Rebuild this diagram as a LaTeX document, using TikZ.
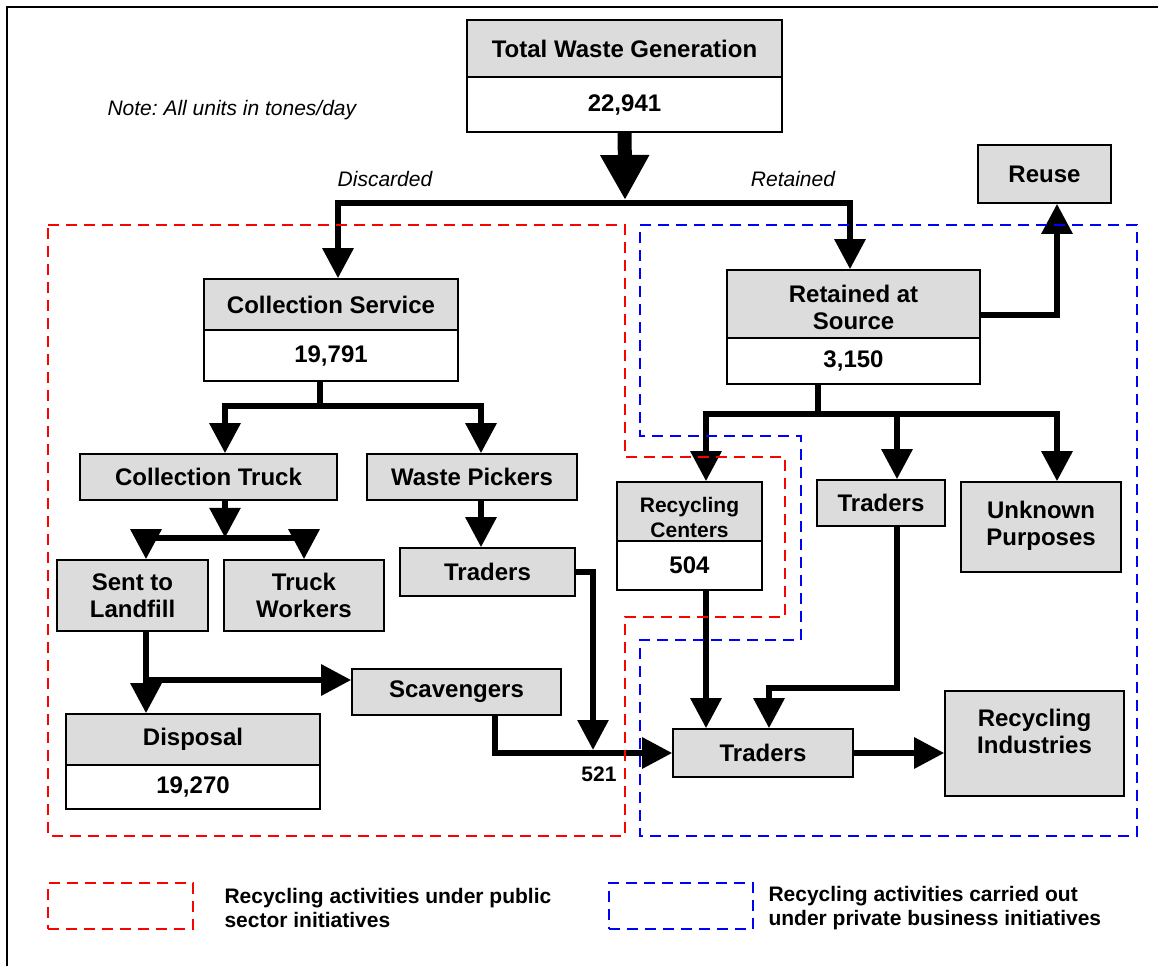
\documentclass[tikz,border=0pt]{standalone}
\usepackage{fontspec}
\setmainfont{Liberation Sans}
\usetikzlibrary{arrows.meta, positioning}
\definecolor{boxgray}{RGB}{220,220,220}
\frenchspacing

\begin{document}
\begin{tikzpicture}[x=1pt, y=-1pt,
    box/.style={draw, line width=1.6pt, fill=boxgray, inner sep=0pt, align=center,
      font=\bfseries\fontsize{24}{27}\selectfont},
    num/.style={box, fill=white},
    flow/.style={line width=6pt, -{Triangle[width=30pt, length=30pt]}},
    wire/.style={line width=6pt},
    note/.style={font=\itshape\fontsize{21}{25}\selectfont},
    keytext/.style={font=\bfseries\fontsize{21}{24}\selectfont, align=left, anchor=west},
    public/.style={draw=red, line width=1.6pt, dash pattern=on 11pt off 7pt},
    private/.style={draw=blue, line width=1.6pt, dash pattern=on 11pt off 7pt}]
  \useasboundingbox (0,0) rectangle (1158,966);
  \draw[line width=2pt] (7,966) -- (7,7) -- (1158,7);

  % top of the tree
  \node[box, minimum width=315, minimum height=57] (total) at (624.5,48.5) {Total Waste Generation};
  \node[num, minimum width=315, minimum height=55] (totalv) at (624.5,104.5) {22,941};
  \node[note, anchor=west] (unit) at (104,110) {Note: All units in tones/day};
  \node[note] (disc) at (385,179) {Discarded};
  \node[note] (ret) at (793,179) {Retained};

  % discarded side
  \node[box, minimum width=254, minimum height=51] (cs) at (331,304.5) {Collection Service};
  \node[num, minimum width=254, minimum height=51] (csv) at (331,355.5) {19,791};
  \node[box, minimum width=257, minimum height=46] (truck) at (208.5,477) {Collection Truck};
  \node[box, minimum width=210, minimum height=46] (pick) at (472,477) {Waste Pickers};
  \node[box, minimum width=151, minimum height=71] (landfill) at (132.5,595.5) {Sent to\\Landfill};
  \node[box, minimum width=160, minimum height=71] (crew) at (304,595.5) {Truck\\Workers};
  \node[box, minimum width=175, minimum height=48] (trd1) at (487.5,572) {Traders};
  \node[box, minimum width=209, minimum height=46] (scav) at (456.5,692) {Scavengers};
  \node[box, minimum width=254, minimum height=51] (disp) at (193,739.5) {Disposal};
  \node[num, minimum width=254, minimum height=44] (dispv) at (193,787) {19,270};

  % retained side
  \node[box, minimum width=253, minimum height=68] (src) at (853.5,304) {\rule{0pt}{25pt}Retained at\\Source};
  \node[num, minimum width=253, minimum height=46] (srcv) at (853.5,361) {3,150};
  \node[box, minimum width=133, minimum height=58] (reuse) at (1044.5,174) {Reuse};
  \node[box, minimum width=145, minimum height=59,
    font=\bfseries\fontsize{21}{25}\selectfont] (rc) at (689.5,511.5) {\rule{0pt}{27pt}Recycling\\Centers};
  \node[num, minimum width=145, minimum height=49] (rcv) at (689.5,565.5) {504};
  \node[box, minimum width=128, minimum height=46] (trd2) at (881,503) {Traders};
  \node[box, minimum width=160, minimum height=90] (unk) at (1041,527) {Unknown\\Purposes\\[-20pt]\mbox{}};
  \node[box, minimum width=180, minimum height=48] (trd3) at (763,753) {Traders};
  \node[box, minimum width=179, minimum height=105] (ind) at (1034.5,743.5) {Recycling\\Industries\\[-2pt]\mbox{}};

  % flows
  \coordinate (split) at (625,203);
  \draw[line width=14pt, -{Triangle[width=46pt, length=45pt]}] (totalv) -- ([yshift=3pt]split);
  \draw[flow] (split) -| ([xshift=7pt]cs.north);
  \draw[flow] (split) -| ([xshift=-3.5pt]src.north);

  \draw[wire] ([xshift=-11pt]csv.south) -- ++(0,24) coordinate (csbar);
  \draw[flow] (csbar) -| ([xshift=16.5pt]truck.north);
  \draw[flow] (csbar) -| ([xshift=9pt]pick.north);
  \draw[flow] ([xshift=16.5pt]truck.south) -- ++(0,37) coordinate (tbar);
  \draw[flow] (tbar) -| ([xshift=13.5pt]landfill.north);
  \draw[flow] (tbar) -| (crew.north);
  \draw[flow] ([xshift=9pt]pick.south) -- ([xshift=-6.5pt]trd1.north);
  \draw[flow] ([xshift=13.5pt]landfill.south) -- ([xshift=-47pt]disp.north);
  \coordinate (lfbend) at (146,680);
  \draw[flow] (lfbend) -- (lfbend -| scav.west);

  \coordinate (join) at (593,753);
  \draw[flow] (trd1.east) -| ([yshift=3pt]join);
  \draw[flow] ([xshift=38.5pt]scav.south) |- (trd3.west);
  \node[font=\bfseries\fontsize{21}{24}\selectfont] (amt) at (599,774) {521};

  \draw[flow] ([yshift=-11pt]src.east) -| ([xshift=12.5pt]reuse.south);
  \draw[wire] ([xshift=-35.5pt]srcv.south) -- ++(0,29) coordinate (sbar);
  \draw[flow] (sbar) -| ([xshift=16.5pt]rc.north);
  \draw[flow] (sbar) -| ([xshift=16pt]trd2.north);
  \draw[flow] (sbar) -| ([xshift=16pt]unk.north);
  \draw[flow] ([xshift=16.5pt]rcv.south) -- ([xshift=-57pt]trd3.north);
  \draw[flow] ([xshift=16pt]trd2.south) -- ++(0,161) -| ([xshift=6pt]trd3.north);
  \draw[flow] (trd3) -- (trd3 -| ind.west);

  % public / private areas
  \draw[public] (48,225) -- (625,225) -- (625,457) -- (785,457) -- (785,617)
    -- (625,617) -- (625,836) -- (48,836) -- cycle;
  \draw[private] (640,225) -- (1137,225) -- (1137,836) -- (640,836) -- (640,640)
    -- (801,640) -- (801,436) -- (640,436) -- cycle;

  % key
  \node[public, minimum width=145, minimum height=46] (pubkey) at (120.5,906) {};
  \node[keytext] (pubtxt) at (221,908) {Recycling activities under public\\sector initiatives};
  \node[private, minimum width=144, minimum height=46] (privkey) at (681,906) {};
  \node[keytext] (privtxt) at (765,908) {Recycling activities carried out\\under private business initiatives};
\end{tikzpicture}
\end{document}
